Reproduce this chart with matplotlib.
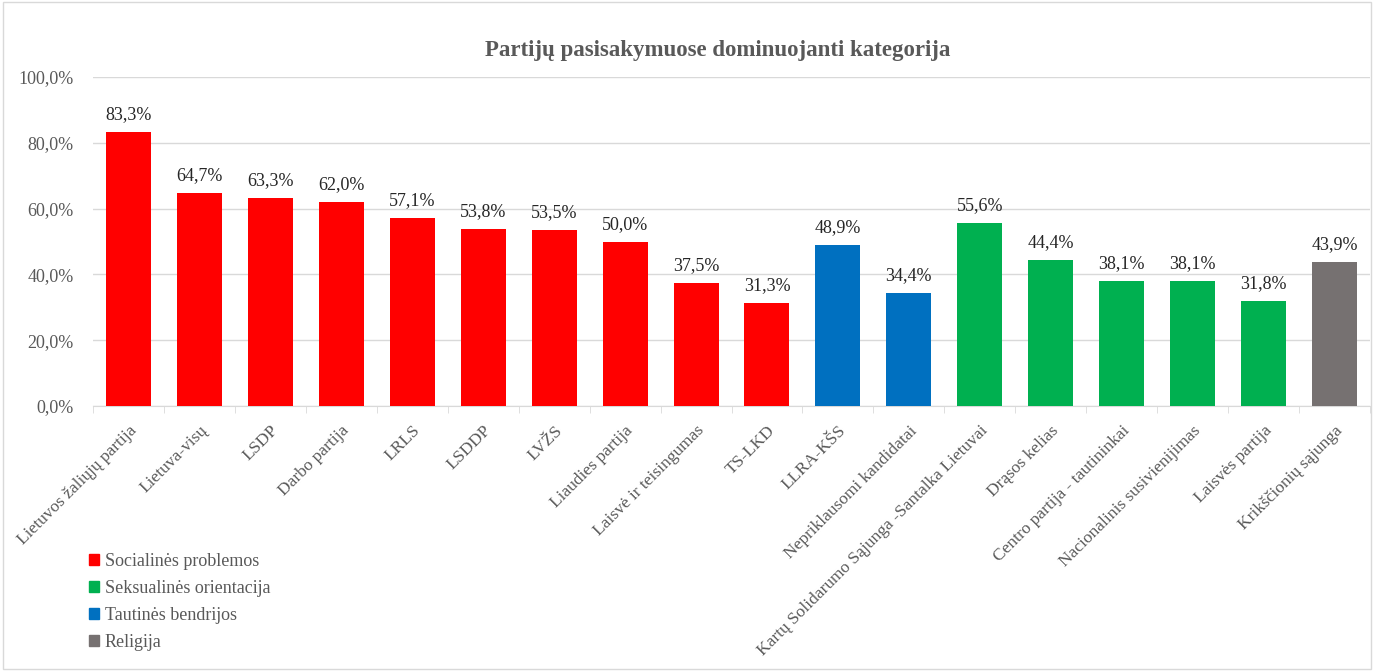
import numpy as np
import matplotlib.pyplot as plt
from matplotlib.patches import Patch, Rectangle

# Data
parties = ['Lietuvos žaliųjų partija', 'Lietuva-visų', 'LSDP', 'Darbo partija', 'LRLS',
           'LSDDP', 'LVŽS', 'Liaudies partija', 'Laisvė ir teisingumas', 'TS-LKD',
           'LLRA-KŠS', 'Nepriklausomi kandidatai', 'Kartų Solidarumo Sąjunga -Santalka Lietuvai',
           'Drąsos kelias', 'Centro partija - tautininkai', 'Nacionalinis susivienijimas',
           'Laisvės partija', 'Krikščionių sąjunga']
values = [83.3, 64.7, 63.3, 62.0, 57.1, 53.8, 53.5, 50.0, 37.5, 31.3,
          48.9, 34.4, 55.6, 44.4, 38.1, 38.1, 31.8, 43.9]
category = ['soc'] * 10 + ['taut'] * 2 + ['seks'] * 5 + ['rel']

cat_names = {'soc': 'Socialinės problemos', 'seks': 'Seksualinės orientacija',
             'taut': 'Tautinės bendrijos', 'rel': 'Religija'}
cat_colors = {'soc': '#FF0000', 'seks': '#00B050', 'taut': '#0070C0', 'rel': '#767171'}

plt.rcParams['font.family'] = ['Liberation Serif', 'DejaVu Serif']
txt_gray = '#595959'

fig = plt.figure(figsize=(13.77, 6.71), dpi=100)
ax = fig.add_axes([93 / 1377, 1 - 406 / 671, 1277 / 1377, 329 / 671])

x = np.arange(len(parties))
cols = [cat_colors[c] for c in category]
fr = np.array(values) / 100
ax.bar(x, fr, width=0.635, color=cols, zorder=3)

for xi, v in zip(x, values):
    ax.text(xi, v / 100 + 0.027, ('%.1f%%' % v).replace('.', ','), ha='center', va='bottom',
            fontsize=13, color='#262626')

ax.set_ylim(0, 1)
ax.set_xlim(-0.5, len(parties) - 0.5)
yt = np.arange(0, 1.01, 0.2)
ax.set_yticks(yt)
ax.set_yticklabels([('%.1f%%' % (t * 100)).replace('.', ',') for t in yt], fontsize=13, color=txt_gray)
ax.yaxis.grid(True, color='#D9D9D9', linewidth=1, zorder=0)
ax.tick_params(axis='y', length=0, pad=14)

ax.set_xticks(np.arange(-0.5, len(parties), 1), minor=True)
ax.set_xticks(x)
ax.set_xticklabels(parties, rotation=45, ha='right', rotation_mode='anchor', fontsize=12.5, color=txt_gray)
ax.tick_params(axis='x', which='major', length=0, pad=12)
ax.tick_params(axis='x', which='minor', length=5, color='#D9D9D9')

for s in ['top', 'right', 'left']:
    ax.spines[s].set_visible(False)
ax.spines['bottom'].set_color('#D9D9D9')

fig.text(0.5215, 0.925, 'Partijų pasisakymuose dominuojanti kategorija', ha='center', va='center',
         fontsize=16.5, fontweight='bold', color=txt_gray)

handles = [Patch(color=cat_colors[k]) for k in ['soc', 'seks', 'taut', 'rel']]
labels = [cat_names[k] for k in ['soc', 'seks', 'taut', 'rel']]
leg = fig.legend(handles, labels, loc='upper left', bbox_to_anchor=(0.053, 0.2), frameon=False,
                 fontsize=13, handlelength=0.55, handleheight=0.55, handletextpad=0.3, labelspacing=0.55,
                 labelcolor=txt_gray)

fig.patches.append(Rectangle((0.002, 0.003), 0.994, 0.994, transform=fig.transFigure,
                             fill=False, edgecolor='#D9D9D9', linewidth=1))

plt.savefig('out.png', dpi=100)
